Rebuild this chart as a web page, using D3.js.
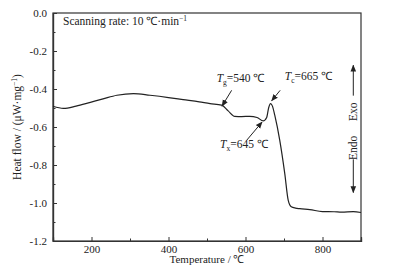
<!DOCTYPE html>
<html>
<head>
<meta charset="utf-8">
<script src="https://cdn.jsdelivr.net/npm/d3@7"></script>
<style>
  body { margin: 0; background: #fff; }
  text { font-family: "Liberation Serif", "Times New Roman", serif; fill: #222; }
</style>
</head>
<body>
<div id="chart"></div>
<script>
// DSC curve
var temps = [100, 127, 160, 197, 230, 266, 309, 352, 400, 438, 480, 508, 538, 555, 572, 590, 611, 630, 646, 655, 660, 665, 670, 676, 689, 702, 711, 719, 730, 741, 767, 800, 830, 850, 880, 900];
var heatFlow = [-0.491, -0.502, -0.49, -0.47, -0.452, -0.433, -0.424, -0.433, -0.445, -0.456, -0.468, -0.477, -0.485, -0.515, -0.544, -0.545, -0.544, -0.55, -0.568, -0.55, -0.50, -0.477, -0.49, -0.538, -0.67, -0.845, -0.986, -1.02, -1.027, -1.03, -1.035, -1.045, -1.046, -1.048, -1.045, -1.05];
var xTicks = [200, 400, 600, 800];
var yTicks = [0.0, -0.2, -0.4, -0.6, -0.8, -1.0, -1.2];

var W = 415, H = 272;
var margin = {top: 13, right: 54, bottom: 31, left: 53};
var width = W - margin.left - margin.right,
    height = H - margin.top - margin.bottom;

var svg = d3.select("#chart").append("svg")
    .attr("width", W).attr("height", H);

var defs = svg.append("defs");
defs.append("marker")
    .attr("id", "ah").attr("viewBox", "0 0 10 10")
    .attr("refX", 9).attr("refY", 5)
    .attr("markerWidth", 7).attr("markerHeight", 7)
    .attr("markerUnits", "userSpaceOnUse")
    .attr("orient", "auto")
  .append("path").attr("d", "M0,1 L10,5 L0,9 Z").attr("fill", "#222");

var g = svg.append("g")
    .attr("transform", "translate(" + margin.left + "," + margin.top + ")");

var x = d3.scaleLinear().domain([100, 900]).range([0, width]);
var y = d3.scaleLinear().domain([-1.2, 0]).range([height, 0]);

// frame
g.append("rect").attr("width", width).attr("height", height)
    .attr("fill", "none").attr("stroke", "#333").attr("stroke-width", 1.2);

// axes, ticks pointing inward
var xAxis = g.append("g").attr("transform", "translate(0," + height + ")")
    .call(d3.axisBottom(x).tickValues(xTicks).tickSize(-4).tickPadding(4).tickFormat(d3.format("d")));
g.append("g").attr("transform", "translate(0," + height + ")")
    .call(d3.axisBottom(x).tickValues([300, 500, 700]).tickSize(-2.5).tickFormat(""));
var yAxis = g.append("g")
    .call(d3.axisLeft(y).tickValues(yTicks).tickSize(-4).tickPadding(6).tickFormat(d3.format(".1f")));
g.append("g")
    .call(d3.axisLeft(y).tickValues([-0.1, -0.3, -0.5, -0.7, -0.9, -1.1]).tickSize(-2.5).tickFormat(""));
g.selectAll(".domain").attr("stroke", "#333").attr("stroke-width", 1.2);
g.selectAll(".tick line").attr("stroke", "#333");
g.selectAll(".tick text").style("font-size", "11px")
    .style("font-family", "'Liberation Serif', serif").attr("fill", "#222");
yAxis.selectAll(".tick text").text(function(d) { return d === 0 ? "0.0" : d3.format(".1f")(d).replace("\u2212", "-"); });

// curve
var pts = temps.map(function(t, i) { return [t, heatFlow[i]]; });
g.append("path").datum(pts)
    .attr("fill", "none").attr("stroke", "#222").attr("stroke-width", 1.2)
    .attr("d", d3.line().x(function(d) { return x(d[0]); }).y(function(d) { return y(d[1]); })
        .curve(d3.curveMonotoneX));

// axis titles
svg.append("text").attr("x", margin.left + width / 2).attr("y", 263)
    .attr("text-anchor", "middle").style("font-size", "11px")
    .text("Temperature / \u2103");
var yl = svg.append("text").attr("transform", "translate(21," + (margin.top + height / 2) + ") rotate(-90)")
    .attr("text-anchor", "middle").style("font-size", "11.5px");
yl.append("tspan").text("Heat flow / (\u03bcW\u00b7mg");
yl.append("tspan").attr("dy", -4).style("font-size", "7.5px").text("\u22121");
yl.append("tspan").attr("dy", 4).text(")");

// scanning rate note
var sr = g.append("text").attr("x", 10).attr("y", 12).style("font-size", "11.5px");
sr.append("tspan").text("Scanning rate: 10 \u2103\u00b7min");
sr.append("tspan").attr("dy", -4).style("font-size", "7.5px").text("\u22121");

// temperature labels
function tLabel(t0, v0, sub, val) {
  var t = g.append("text").attr("x", x(t0)).attr("y", y(v0)).style("font-size", "11.5px");
  t.append("tspan").style("font-style", "italic").text("T");
  t.append("tspan").attr("dy", 3).style("font-size", "7.5px").text(sub);
  t.append("tspan").attr("dy", -3).text("=" + val + " \u2103");
}
function arrow(t1, v1, t2, v2) {
  g.append("line")
      .attr("x1", x(t1)).attr("y1", y(v1)).attr("x2", x(t2)).attr("y2", y(v2))
      .attr("stroke", "#222").attr("stroke-width", 1).attr("marker-end", "url(#ah)");
}
tLabel(525, -0.363, "g", 540);
arrow(564, -0.407, 539, -0.49);
tLabel(702, -0.354, "c", 665);
arrow(690, -0.407, 668, -0.462);
tLabel(534, -0.71, "x", 645);
arrow(603, -0.67, 643, -0.574);

// exo / endo indicator
var ex = x(880);
g.append("line").attr("x1", ex).attr("y1", y(-0.435)).attr("x2", ex).attr("y2", y(-0.275))
    .attr("stroke", "#222").attr("marker-end", "url(#ah)");
g.append("text").attr("transform", "translate(" + (ex + 4) + "," + y(-0.52) + ") rotate(-90)")
    .attr("text-anchor", "middle").style("font-size", "11.5px").text("Exo");
g.append("text").attr("transform", "translate(" + (ex + 4) + "," + y(-0.71) + ") rotate(-90)")
    .attr("text-anchor", "middle").style("font-size", "11.5px").text("Endo");
g.append("line").attr("x1", ex).attr("y1", y(-0.77)).attr("x2", ex).attr("y2", y(-0.945))
    .attr("stroke", "#222").attr("marker-end", "url(#ah)");
</script>
</body>
</html>
